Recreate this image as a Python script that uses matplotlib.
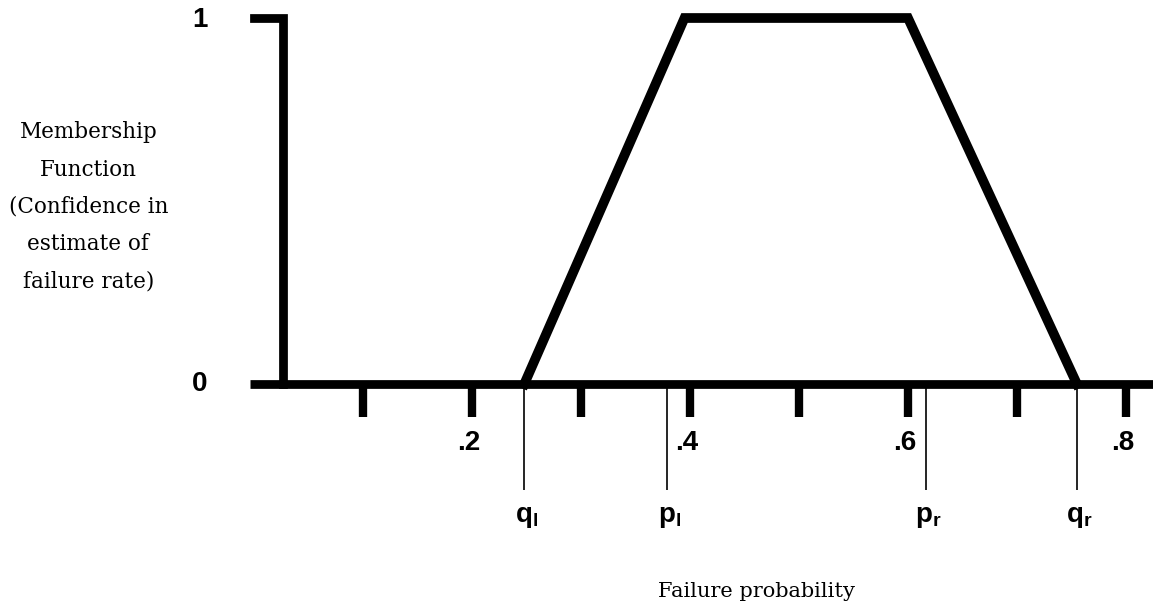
import matplotlib
matplotlib.use("Agg")
import matplotlib.pyplot as plt

# membership function (trapezoid)
trap_x = [0.248, 0.395, 0.600, 0.755]
trap_y = [0, 1, 1, 0]

# x axis ticks and labels
tick_pos = [0.1, 0.2, 0.3, 0.4, 0.5, 0.6, 0.7, 0.8]
tick_labels = ["", ".2", "", ".4", "", ".6", "", ".8"]

# bounds marked under the axis
bound_pos = [0.248, 0.379, 0.617, 0.755]
bound_labels = [r"$\mathbf{q_l}$", r"$\mathbf{p_l}$", r"$\mathbf{p_r}$", r"$\mathbf{q_r}$"]

y_text = "Membership\nFunction\n(Confidence in\nestimate of\nfailure rate)"
x_text = "Failure probability"

plt.rcParams["mathtext.fontset"] = "custom"
plt.rcParams["mathtext.rm"] = "Liberation Sans"
plt.rcParams["mathtext.bf"] = "Liberation Sans:bold"

fig = plt.figure(figsize=(11.53, 6.13), dpi=100)
ax = fig.add_axes([0, 0, 1, 1])
ax.set_xlim(-0.233, 0.8248)
ax.set_ylim(-0.6257, 1.0492)
ax.axis("off")

sans = "Liberation Sans"
serif = "DejaVu Serif"
y_axis_x = 0.0266

# axes drawn by hand, the way the figure has them
ax.plot([-0.004, 0.83], [0, 0], color="black", lw=6.3, solid_capstyle="butt")
ax.plot([0, y_axis_x, y_axis_x], [1, 1, 0], color="black", lw=6.3,
        solid_capstyle="projecting", solid_joinstyle="miter")
ax.vlines(tick_pos, -0.09, 0, color="black", lw=6)
for x, lab in zip(tick_pos, tick_labels):
    if lab:
        ax.text(x - 0.003, -0.18, lab, ha="center", va="baseline",
                fontsize=20, fontweight="bold", family=sans)

ax.text(-0.05, 0.995, "1", ha="center", va="center", fontsize=20, fontweight="bold", family=sans)
ax.text(-0.05, 0.0, "0", ha="center", va="center", fontsize=20, fontweight="bold", family=sans)

# trapezoid
ax.plot(trap_x, trap_y, color="black", lw=7, solid_joinstyle="miter")

# bound lines and labels
ax.vlines(bound_pos, -0.29, 0, color="black", lw=1.2)
for x, lab in zip(bound_pos, bound_labels):
    ax.text(x + 0.002, -0.377, lab, ha="center", va="baseline", fontsize=20)

ax.text(-0.152, 0.484, y_text, ha="center", va="center", multialignment="center",
        fontsize=15.5, family=serif, linespacing=1.9)
ax.text(0.4606, -0.582, x_text, ha="center", va="baseline", fontsize=15, family=serif)

fig.savefig("out.png", dpi=100)
